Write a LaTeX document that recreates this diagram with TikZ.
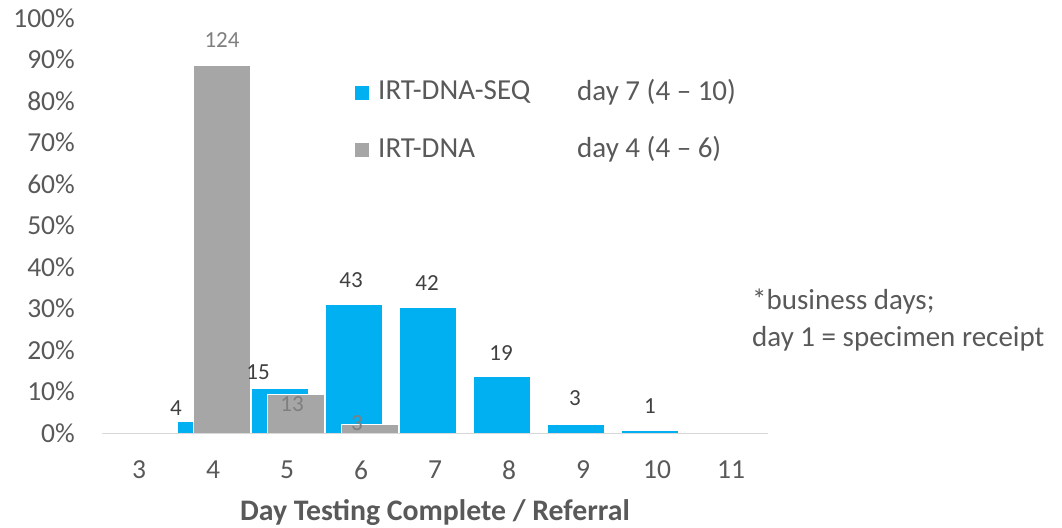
\documentclass[tikz,border=0pt]{standalone}
\usepackage{fontspec}
\setmainfont{Carlito}
\definecolor{seqblue}{HTML}{00B0F0}
\definecolor{dnagray}{HTML}{A6A6A6}
\definecolor{txtgray}{HTML}{595959}
\definecolor{lbldark}{HTML}{404040}
\definecolor{lblgray}{HTML}{7F7F7F}
\definecolor{axisgray}{HTML}{D9D9D9}
\tikzset{
  tick/.style={font=\fontsize{27.5}{32}\selectfont, text=txtgray, inner sep=0pt},
  vlabel/.style={font=\fontsize{23}{27}\selectfont, text=lbldark, inner sep=0pt},
  glabel/.style={font=\fontsize{23}{27}\selectfont, text=lblgray, inner sep=0pt},
  legtext/.style={font=\fontsize{29}{34}\selectfont, text=txtgray, inner sep=0pt, anchor=base west},
  seqbar/.style={fill=seqblue, draw=white, line width=1pt},
  dnabar/.style={fill=dnagray, draw=white, line width=1pt},
}
\begin{document}
\begin{tikzpicture}[x=1pt,y=-1pt]
\useasboundingbox (0,0) rectangle (1062,527);

% value axis labels, 0% at y=433, 10% steps of 41.5
\foreach \i in {0,...,10}{
  \node[tick, anchor=east] (ytick\i) at (75,{433-41.5*\i}) {\the\numexpr\i*10\relax\%};
}

% IRT-DNA-SEQ bars (share of 139), left of each category centre
\foreach \c/\v in {4/2.88, 5/10.79, 6/30.94, 7/30.22, 8/13.67, 9/2.16, 10/0.72}{
  \pgfmathsetmacro\xc{139+74*(\c-3)}
  \path[seqbar] (\xc-36,433) rectangle (\xc+21,{433-4.15*\v});
}
% IRT-DNA bars (share of 140), right of each category centre
\foreach \c/\v in {4/88.57, 5/9.29, 6/2.14}{
  \pgfmathsetmacro\xc{139+74*(\c-3)}
  \path[dnabar] (\xc-20,433) rectangle (\xc+37,{433-4.15*\v});
}

% category axis
\draw[axisgray, line width=1.5pt] (102,433.5) -- (768,433.5);
\foreach \c in {3,...,11}{
  \node[tick, anchor=center] (xtick\c) at ({139+74*(\c-3)},470) {\c};
}

% counts above the bars
\node[vlabel] (n4)  at (176,408) {4};
\node[vlabel] (n5)  at (258,372) {15};
\node[vlabel] (n6)  at (351,280) {43};
\node[vlabel] (n7)  at (427,283) {42};
\node[vlabel] (n8)  at (501,353) {19};
\node[vlabel] (n9)  at (575,398) {3};
\node[vlabel] (n10) at (650,406) {1};
\node[glabel] (g4)  at (222,40)  {124};
\node[glabel] (g5)  at (292,404) {13};
\node[glabel] (g6)  at (357,423) {3};

% legend with medians
\fill[seqblue] (354.5,86) rectangle (368.5,100) coordinate (legA);
\fill[dnagray] (354.5,143) rectangle (368.5,157) coordinate (legB);
\node[legtext] (legseq) at (378,99.5) {IRT-DNA-SEQ};
\node[legtext] (legdna) at (378,157) {IRT-DNA};
\node[legtext] (medseq) at (577,100.5) {day 7 (4 – 10)};
\node[legtext] (meddna) at (577,157) {day 4 (4 – 6)};

% footnote
\node[legtext] (note1) at (752,309) {*business days;};
\node[legtext] (note2) at (752,346) {day 1 = specimen receipt};

% axis title
\node[font=\fontsize{29.8}{34}\selectfont\bfseries, text=txtgray, inner sep=0pt] (xtitle) at (435,513) {Day Testing Complete / Referral};
\end{tikzpicture}
\end{document}
